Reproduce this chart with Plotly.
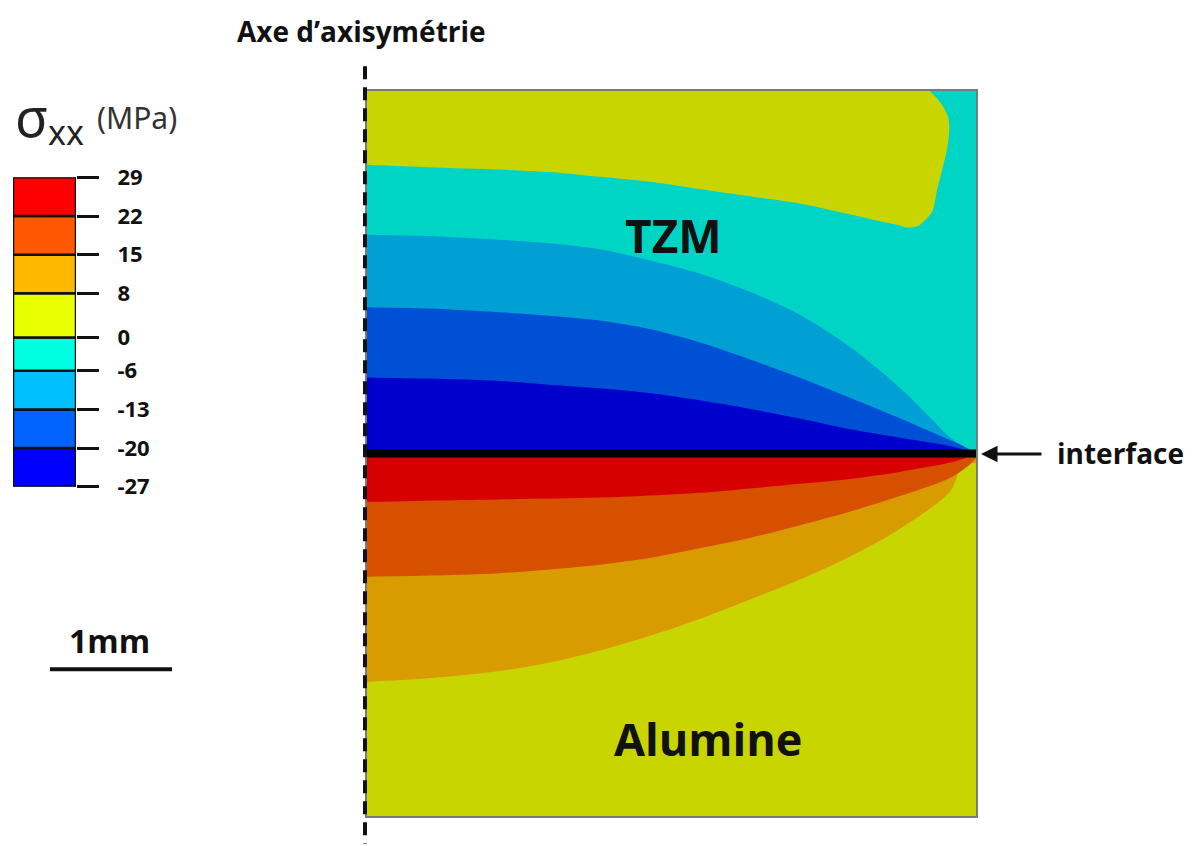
import plotly.graph_objects as go

# ---------------- data (mm, MPa) ----------------
WIDTH_MM = 5.0
HEIGHT_MM = 6.0
INTERFACE_MM = 3.0

LEVELS = [-27, -20, -13, -6, 0, 8, 15, 22, 29]
LEVEL_LABELS = ["-27", "-20", "-13", "-6", "0", "8", "15", "22", "29"]
LEGEND_COLORS = ["#0000ff", "#0062ff", "#00c0ff", "#00ffe0",
                 "#e8ff00", "#ffb800", "#ff5800", "#ff0000"]

# TZM (upper part) iso-lines, x/y in mm
ISO_0_X = [0, 0.5, 1.09, 1.50, 1.91, 2.32, 2.73, 3.14, 3.55, 3.83, 4.05, 4.27, 4.38, 4.43,
           4.52, 4.58, 4.64, 4.68, 4.72, 4.76, 4.78, 4.77, 4.73, 4.68, 4.62]
ISO_0_Y = [5.39, 5.37, 5.35, 5.33, 5.29, 5.25, 5.19, 5.13, 5.07, 5.01, 4.96, 4.91, 4.885, 4.87,
           4.88, 4.93, 5.00, 5.18, 5.34, 5.51, 5.67, 5.79, 5.87, 5.94, 6.0]

ISO_M6_X = [0, 0.5, 1.09, 1.50, 1.91, 2.32, 2.73, 3.14, 3.55, 3.97, 4.38, 4.62, 4.79, 4.91, 5.0]
ISO_M6_Y = [4.81, 4.80, 4.77, 4.74, 4.69, 4.60, 4.49, 4.34, 4.15, 3.88, 3.54, 3.30, 3.13, 3.05, 3.02]

ISO_M13_X = [0, 0.5, 1.09, 1.50, 1.91, 2.32, 2.73, 3.14, 3.55, 3.97, 4.38, 4.62, 4.87, 5.0]
ISO_M13_Y = [4.21, 4.20, 4.17, 4.14, 4.10, 4.03, 3.92, 3.78, 3.63, 3.46, 3.29, 3.185, 3.075, 3.0]

ISO_M20_X = [0, 0.5, 1.09, 1.50, 1.91, 2.32, 2.73, 3.14, 3.55, 3.97, 4.38, 4.79, 5.0]
ISO_M20_Y = [3.63, 3.62, 3.60, 3.57, 3.54, 3.50, 3.44, 3.37, 3.29, 3.20, 3.13, 3.06, 3.0]

# Alumine (lower part) iso-lines
ISO_22_X = [0, 0.5, 1.09, 1.91, 2.73, 3.55, 3.97, 4.38, 4.79, 4.92]
ISO_22_Y = [2.60, 2.61, 2.62, 2.635, 2.675, 2.75, 2.79, 2.85, 2.925, 2.965]

ISO_15_X = [0, 0.5, 1.09, 1.50, 1.91, 2.32, 2.73, 3.14, 3.55, 3.97, 4.38, 4.79, 4.95, 5.0]
ISO_15_Y = [1.98, 1.99, 2.01, 2.04, 2.08, 2.135, 2.215, 2.30, 2.405, 2.52, 2.65, 2.80, 2.91, 2.96]

ISO_8_X = [0, 0.5, 1.09, 1.50, 1.91, 2.32, 2.73, 3.14, 3.55, 3.97, 4.38, 4.79, 4.89, 5.0]
ISO_8_Y = [1.11, 1.14, 1.20, 1.27, 1.37, 1.49, 1.63, 1.79, 1.955, 2.15, 2.38, 2.69, 2.91, 2.92]

# plot colours of the bands
C_YELLOW = "#c8d500"
C_CYAN = "#00d5c5"
C_LBLUE = "#00a0d5"
C_BLUE = "#0050d5"
C_DBLUE = "#0000cd"
C_RED = "#d70000"
C_ORED = "#d75000"
C_ORANGE = "#d89c00"

W, H = 1193, 846


def PX(x):
    return (x - 8) / W


def PY(y):
    return 1 - (y - 19.4) / 822.8


fig = go.Figure()


def rect(xs, ys, color):
    fig.add_trace(go.Scatter(x=xs, y=ys, mode="lines", fill="toself",
                             fillcolor=color, line=dict(width=0, color=color),
                             hoverinfo="skip", showlegend=False))


def band_to_line(base_y, xs, ys, color):
    # invisible straight baseline, then the iso-line filled to it
    fig.add_trace(go.Scatter(x=[0, WIDTH_MM], y=[base_y, base_y], mode="lines",
                             line=dict(width=0), hoverinfo="skip", showlegend=False))
    fig.add_trace(go.Scatter(x=xs, y=ys, mode="lines", fill="tonexty",
                             fillcolor=color,
                             line=dict(width=0, color=color, shape="spline", smoothing=0.9),
                             hoverinfo="skip", showlegend=False))


# TZM background (cyan band)
rect([0, WIDTH_MM, WIDTH_MM, 0], [INTERFACE_MM, INTERFACE_MM, HEIGHT_MM, HEIGHT_MM], C_CYAN)
band_to_line(HEIGHT_MM, ISO_0_X, ISO_0_Y, C_YELLOW)
band_to_line(INTERFACE_MM, ISO_M6_X, ISO_M6_Y, C_LBLUE)
band_to_line(INTERFACE_MM, ISO_M13_X, ISO_M13_Y, C_BLUE)
band_to_line(INTERFACE_MM, ISO_M20_X, ISO_M20_Y, C_DBLUE)

# Alumine background (yellow)
rect([0, WIDTH_MM, WIDTH_MM, 0], [0, 0, INTERFACE_MM, INTERFACE_MM], C_YELLOW)
band_to_line(INTERFACE_MM, ISO_8_X, ISO_8_Y, C_ORANGE)
band_to_line(INTERFACE_MM, ISO_15_X, ISO_15_Y, C_ORED)
band_to_line(INTERFACE_MM, ISO_22_X, ISO_22_Y, C_RED)

# interface line
fig.add_trace(go.Scatter(x=[0, WIDTH_MM], y=[INTERFACE_MM, INTERFACE_MM], mode="lines",
                         line=dict(color="black", width=8), hoverinfo="skip",
                         showlegend=False))

# legend colour scale as stacked bars
for i, col in enumerate(LEGEND_COLORS):
    fig.add_trace(go.Bar(x=[0], y=[LEVELS[i + 1] - LEVELS[i]], base=[LEVELS[i]],
                         marker=dict(color=col, line=dict(color="#111", width=2.5)),
                         width=1, cliponaxis=False, hoverinfo="skip",
                         showlegend=False, xaxis="x2", yaxis="y2"))

fig.update_layout(
    width=W, height=H,
    margin=dict(l=0, r=0, t=0, b=0),
    paper_bgcolor="white", plot_bgcolor="white",
    barmode="overlay",
    showlegend=False,
    xaxis=dict(domain=[PX(367), PX(976)], range=[0, WIDTH_MM], showgrid=False,
               zeroline=False, showticklabels=False, ticks="",
               showline=True, mirror=True, linecolor="#7a7a7a", linewidth=1.5),
    yaxis=dict(domain=[PY(818), PY(87)], range=[0, HEIGHT_MM], showgrid=False,
               zeroline=False, showticklabels=False, ticks="",
               showline=True, mirror=True, linecolor="#7a7a7a", linewidth=1.5),
    xaxis2=dict(domain=[PX(13), PX(76)], range=[-0.5, 0.5], showgrid=False,
                zeroline=False, showticklabels=False, ticks="", anchor="y2"),
    yaxis2=dict(domain=[PY(486), PY(174)], range=[LEVELS[0], LEVELS[-1]],
                anchor="x2", side="right", showgrid=False, zeroline=False,
                tickmode="array", tickvals=LEVELS, ticktext=LEVEL_LABELS,
                ticks="outside", ticklen=22, tickwidth=2.5, tickcolor="#111",
                ticklabelstandoff=14,
                tickfont=dict(family="Open Sans", size=22, color="#111", weight="bold")),
)

shapes = [
    # axis of symmetry (dashed)
    dict(type="line", xref="paper", yref="paper", x0=PX(365), x1=PX(365),
         y0=PY(62), y1=PY(846), line=dict(color="#111", width=4, dash="13px,8px")),
    # scale bar
    dict(type="line", xref="paper", yref="paper", x0=PX(50), x1=PX(172),
         y0=PY(670), y1=PY(670), line=dict(color="#111", width=4)),
]
fig.update_layout(shapes=shapes)

bold = dict(family="Open Sans", color="#111", weight="bold")
ann = [
    dict(text="Axe d’axisymétrie", x=PX(361), y=PY(26), font=dict(size=28, **bold)),
    dict(text="TZM", x=PX(673), y=PY(232), font=dict(size=46, **bold)),
    dict(text="Alumine", x=PX(708), y=PY(740), font=dict(size=45, **bold)),
    dict(text="interface", x=PX(1120), y=PY(452), font=dict(size=28, **bold)),
    dict(text="1mm", x=PX(109), y=PY(641), font=dict(size=32, **bold)),
    dict(text="σ", x=PX(31), y=PY(112),
         font=dict(family="Noto Sans", size=54, color="#222")),
    dict(text="xx", x=PX(66), y=PY(128),
         font=dict(family="Noto Sans", size=34, color="#222")),
    dict(text="(MPa)", x=PX(137), y=PY(114),
         font=dict(family="Noto Sans", size=30, color="#333")),
]
annotations = []
for a in ann:
    a.update(xref="paper", yref="paper", showarrow=False, xanchor="center", yanchor="middle")
    annotations.append(a)
annotations.append(dict(xref="paper", yref="paper", x=PX(981), y=PY(453), text="",
                        showarrow=True, ax=62, ay=0, arrowhead=2, arrowsize=1.1,
                        arrowwidth=3, arrowcolor="#111", standoff=0))
fig.update_layout(annotations=annotations)

fig.write_html("out.html")
